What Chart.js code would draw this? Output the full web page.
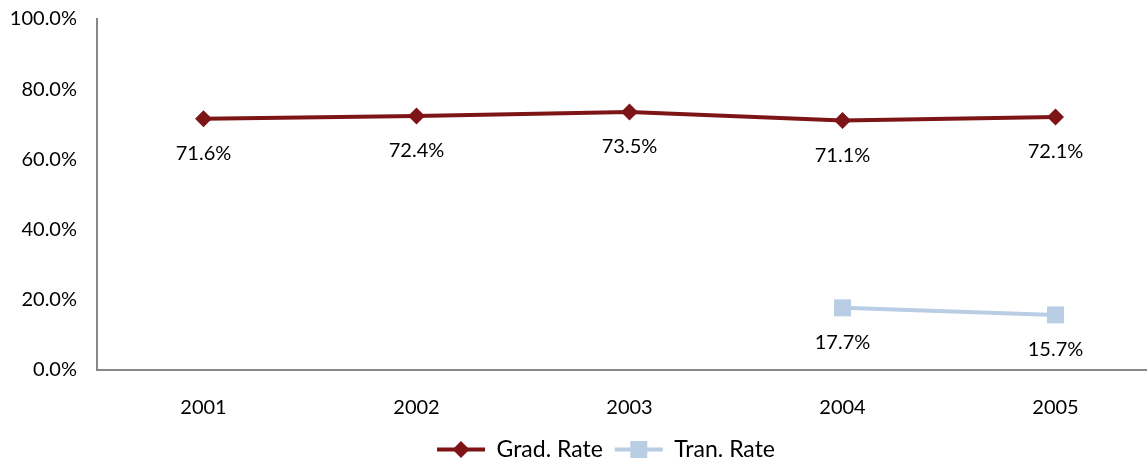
<!DOCTYPE html>
<html>
<head>
<meta charset="utf-8">
<script src="https://cdn.jsdelivr.net/npm/chart.js@4"></script>
<style>
  html, body { margin: 0; padding: 0; background: #fff; overflow: hidden; }
  #wrap { width: 1212px; height: 458px; }
</style>
</head>
<body>
<div id="wrap"><canvas id="chart" width="1212" height="458"></canvas></div>
<script>
const years = ['2001', '2002', '2003', '2004', '2005'];
const gradRate = [71.6, 72.4, 73.5, 71.1, 72.1];
const tranRate = [null, null, null, 17.7, 15.7];
const yTicks = [0, 20, 40, 60, 80, 100];

const FONT = 'Lato, "Liberation Sans", sans-serif';
const FONT_SIZE = 20;
const LEGEND_SIZE = 23;
const GRAD_COLOR = '#7d1416';
const TRAN_COLOR = '#b9cde5';

// labels under each point, like Excel data labels
const pointLabels = {
  id: 'pointLabels',
  afterDatasetsDraw(chart) {
    const ctx = chart.ctx;
    ctx.save();
    ctx.font = FONT_SIZE + 'px ' + FONT;
    ctx.fillStyle = '#000';
    ctx.textAlign = 'center';
    ctx.textBaseline = 'middle';
    chart.data.datasets.forEach((ds, i) => {
      chart.getDatasetMeta(i).data.forEach((pt, j) => {
        const v = ds.data[j];
        if (v == null) return;
        ctx.fillText(v.toFixed(1) + '%', pt.x, pt.y + 35);
      });
    });
    ctx.restore();
  }
};

// put the marker on top of the legend line
const legendMarkers = {
  id: 'legendMarkers',
  afterDraw(chart) {
    const legend = chart.legend;
    if (!legend || !legend.legendHitBoxes) return;
    const ctx = chart.ctx;
    legend.legendHitBoxes.forEach((box, i) => {
      const ds = chart.data.datasets[i];
      const cx = box.left + 24;
      const cy = box.top + box.height / 2;
      ctx.save();
      ctx.fillStyle = ds.borderColor;
      ctx.strokeStyle = ds.borderColor;
      Chart.helpers.drawPoint(ctx, {
        pointStyle: ds.pointStyle,
        radius: ds.pointRadius,
        borderWidth: 0
      }, cx, cy);
      ctx.restore();
    });
  }
};

new Chart(document.getElementById('chart'), {
  type: 'line',
  data: {
    labels: years,
    datasets: [{
      label: 'Grad. Rate',
      data: gradRate,
      borderColor: GRAD_COLOR,
      backgroundColor: GRAD_COLOR,
      borderWidth: 4,
      pointStyle: 'rectRot',
      pointRadius: 8.5,
      pointBorderWidth: 0,
      tension: 0
    }, {
      label: 'Tran. Rate',
      data: tranRate,
      borderColor: TRAN_COLOR,
      backgroundColor: TRAN_COLOR,
      borderWidth: 4,
      pointStyle: 'rect',
      pointRadius: 12,
      pointBorderWidth: 0,
      tension: 0
    }]
  },
  options: {
    responsive: false,
    animation: false,
    layout: { padding: { top: 19, left: 0, right: 0, bottom: -13 } },
    plugins: {
      tooltip: { enabled: false },
      legend: {
        position: 'bottom',
        labels: {
          boxWidth: 48,
          boxHeight: 4,
          padding: 12,
          color: '#000',
          font: { family: FONT, size: LEGEND_SIZE },
          generateLabels(chart) {
            return Chart.defaults.plugins.legend.labels.generateLabels(chart).map(l => {
              l.lineWidth = 0;
              return l;
            });
          }
        }
      }
    },
    scales: {
      x: {
        offset: true,
        grid: { display: false },
        border: { display: true, color: '#878787', width: 2 },
        ticks: { color: '#000', font: { family: FONT, size: FONT_SIZE }, padding: 18 },
        afterFit(scale) { scale.height = 56; }
      },
      y: {
        min: 0,
        max: 100,
        grid: { display: false },
        border: { display: true, color: '#878787', width: 2 },
        afterBuildTicks(scale) { scale.ticks = yTicks.map(v => ({ value: v })); },
        ticks: {
          color: '#000',
          font: { family: FONT, size: FONT_SIZE },
          padding: 12,
          callback: v => v.toFixed(1) + '%'
        },
        afterFit(scale) {
          scale.width = 97;
          scale.paddingTop = 0;
          scale.paddingBottom = 0;
        }
      },
      pad: {
        position: 'right',
        grid: { display: false },
        border: { display: false },
        ticks: { display: false },
        afterFit(scale) {
          scale.width = 50;
          scale.paddingTop = 0;
          scale.paddingBottom = 0;
        }
      }
    }
  },
  plugins: [pointLabels, legendMarkers]
});
</script>
</body>
</html>
